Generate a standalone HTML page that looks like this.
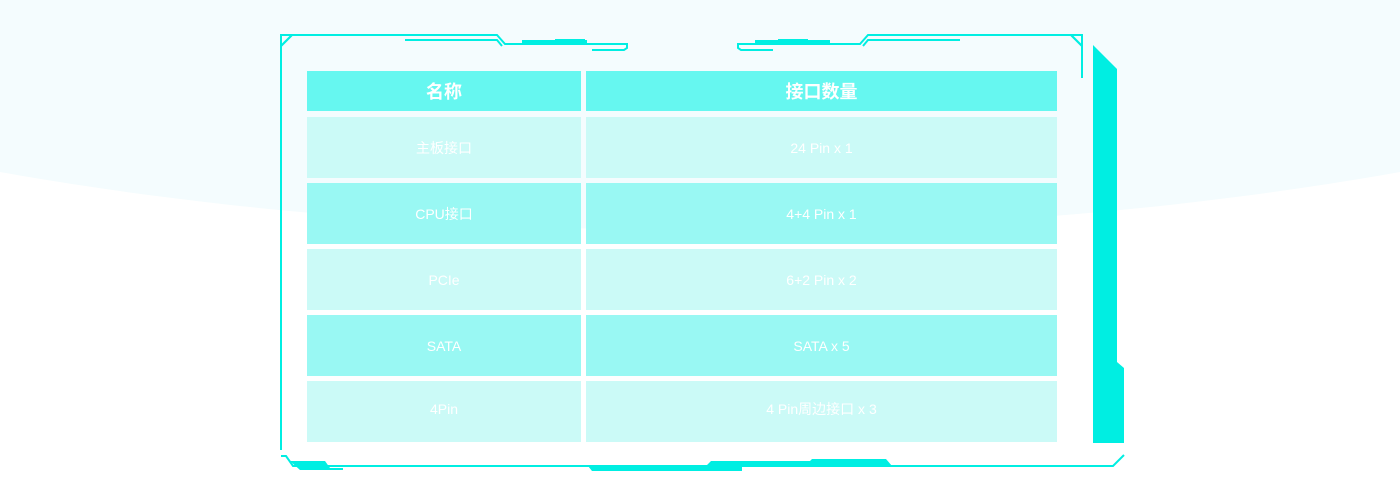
<!DOCTYPE html>
<html><head><meta charset="utf-8"><style>
html,body{margin:0;padding:0;width:1400px;height:498px;overflow:hidden;background:#fff}
.t{position:absolute;display:flex;align-items:center;justify-content:center;color:#fff;font-family:"Liberation Sans","Noto Sans CJK SC",sans-serif;font-size:14px}
.h{background:#66f7f0;font-size:18px;font-weight:bold}
.l{background:#cbfaf7}
.m{background:#99f8f3}
</style></head><body>
<svg width="1400" height="498" style="position:absolute;left:0;top:0">
<ellipse cx="700" cy="-203" rx="1400" ry="433" fill="#f4fcfe"/>
<g fill="none" stroke="#00eee2" stroke-width="2">
<path d="M281,450 V46 L292,35 H497 L505,44 H627 V48 L624,50 H592"/>
<path d="M281,35 H292 L281,46 Z"/>
<path d="M405,40 H497 L502,46"/>
<path d="M1082,78 V46 L1071,35 H868 L860,44 H738 V48 L741,50 H773"/>
<path d="M1082,35 H1071 L1082,46 Z"/>
<path d="M960,40 H868 L863,46"/>
<path d="M281,456 H286 L293,466 H1113 L1124,455"/>
</g>
<g fill="#00eee2">
<rect x="522" y="40" width="65" height="4"/>
<rect x="555" y="39" width="30" height="3"/>
<rect x="755" y="40" width="75" height="4"/>
<rect x="778" y="39" width="30" height="3"/>
<polygon points="1093,45 1117,69 1117,362 1124,368 1124,443 1093,443"/>
<polygon points="290,461 325,461 330,468 343,468 343,470 300,470"/>
<polygon points="588,466 742,466 742,471 592,471"/>
<polygon points="706,466 711,461 810,461 812,459 886,459 892,466"/>
</g>
</svg>
<div class="t h" style="left:307px;top:71px;width:274px;height:40px">名称</div>
<div class="t h" style="left:586px;top:71px;width:471px;height:40px">接口数量</div>
<div class="t l" style="left:307px;top:117px;width:274px;height:61px">主板接口</div>
<div class="t l" style="left:586px;top:117px;width:471px;height:61px">24 Pin x 1</div>
<div class="t m" style="left:307px;top:183px;width:274px;height:61px">CPU接口</div>
<div class="t m" style="left:586px;top:183px;width:471px;height:61px">4+4 Pin x 1</div>
<div class="t l" style="left:307px;top:249px;width:274px;height:61px">PCIe</div>
<div class="t l" style="left:586px;top:249px;width:471px;height:61px">6+2 Pin x 2</div>
<div class="t m" style="left:307px;top:315px;width:274px;height:61px">SATA</div>
<div class="t m" style="left:586px;top:315px;width:471px;height:61px">SATA x 5</div>
<div class="t l" style="left:307px;top:381px;width:274px;height:61px;align-items:flex-start;padding-top:20px;box-sizing:border-box">4Pin</div>
<div class="t l" style="left:586px;top:381px;width:471px;height:61px;align-items:flex-start;padding-top:18px;box-sizing:border-box">4 Pin周边接口 x 3</div>
</body></html>
